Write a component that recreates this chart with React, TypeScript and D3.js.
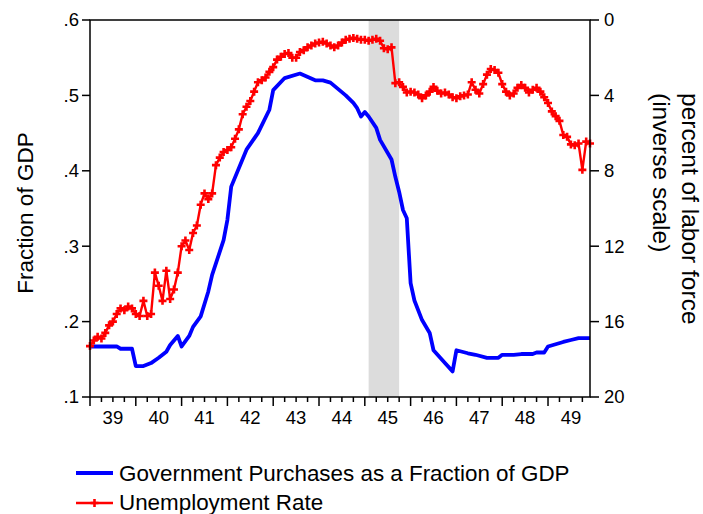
import React from "react";
import * as d3 from "d3";

// Monthly observations, Jan 1939 .. Dec 1949 (month offset 0..131)
const startYear = 1939;
const endYear = 1949;

// Government purchases as a fraction of GDP: month offset since Jan 1939 and value
const govMonths = [0, 7, 8, 11, 12, 14, 16, 18, 20, 21, 23, 24, 26, 27, 29, 31, 32, 35, 36, 37, 41, 44, 47, 48, 51, 55, 59, 61, 63, 67, 69, 70, 71, 72, 73, 75, 76, 79, 80, 81, 82, 83, 84, 85, 87, 89, 90, 93, 95, 96, 99, 101, 104, 107, 108, 111, 113, 116, 117, 119, 120, 124, 126, 128, 131];
const govShare = [0.167, 0.167, 0.164, 0.164, 0.141, 0.141, 0.145, 0.152, 0.160, 0.169, 0.181, 0.167, 0.181, 0.193, 0.207, 0.240, 0.262, 0.308, 0.335, 0.379, 0.428, 0.450, 0.481, 0.507, 0.523, 0.529, 0.520, 0.520, 0.517, 0.500, 0.490, 0.483, 0.472, 0.478, 0.472, 0.457, 0.441, 0.415, 0.392, 0.372, 0.348, 0.337, 0.251, 0.228, 0.202, 0.185, 0.162, 0.145, 0.134, 0.162, 0.158, 0.156, 0.152, 0.152, 0.156, 0.156, 0.157, 0.157, 0.159, 0.159, 0.167, 0.173, 0.1756, 0.178, 0.178];

// Unemployment rate (percent of labor force), monthly Jan 1939 .. Dec 1949
const unempRate = [
  17.3, 17.0, 16.8, 16.9, 16.6, 16.2, 16.0, 15.6, 15.3, 15.4, 15.2, 15.3,
  15.6, 15.7, 14.9, 15.7, 15.6, 13.4, 14.1, 14.9, 13.3, 14.8, 14.3, 13.4,
  12.0, 11.7, 12.2, 11.3, 10.9, 9.8, 9.2, 9.5, 9.2, 7.7, 7.3, 7.0,
  6.9, 6.75, 6.3, 5.8, 5.0, 4.6, 4.3, 3.8, 3.3, 3.2, 3.05, 2.75,
  2.5, 2.1, 1.95, 1.8, 1.75, 2.0, 2.0, 1.7, 1.6, 1.45, 1.35, 1.25,
  1.2, 1.15, 1.25, 1.35, 1.45, 1.35, 1.2, 1.05, 1.0, 0.95, 1.0, 1.05,
  1.05, 1.1, 1.05, 1.0, 1.1, 1.5, 1.55, 1.45, 3.35, 3.3, 3.55, 3.85,
  3.8, 3.85, 3.95, 4.15, 4.0, 3.8, 3.55, 3.75, 3.9, 3.85, 3.95, 4.1,
  4.15, 4.05, 4.0, 3.95, 3.3, 3.7, 3.9, 3.4, 2.9, 2.6, 2.65, 2.8,
  3.4, 3.8, 4.0, 3.9, 3.6, 3.45, 3.6, 3.85, 3.7, 3.6, 3.8, 4.1,
  4.4, 4.85, 5.1, 5.35, 6.1, 6.2, 6.6, 6.65, 6.55, 7.95, 6.45, 6.55,
];

// Recession shading: Feb 1945 .. Oct 1945 (month offsets)
const recessionStart = 73;
const recessionEnd = 81;

const leftTicks = [0.1, 0.2, 0.3, 0.4, 0.5, 0.6];
const rightTicks = [0, 4, 8, 12, 16, 20];
const yearLabels = ["39", "40", "41", "42", "43", "44", "45", "46", "47", "48", "49"];

const legendGov = "Government Purchases as a Fraction of GDP";
const legendUnemp = "Unemployment Rate";

const FONT = "'Liberation Sans', Arial, Helvetica, sans-serif";

export default function App() {
  const W = 703, H = 514;
  const L = 90, R = 590, T = 20, B = 397;
  const nMonths = (endYear - startYear + 1) * 12;

  const x = d3.scaleLinear().domain([0, nMonths - 1]).range([L, R]);
  const yL = d3.scaleLinear().domain([0.1, 0.6]).range([B, T]);
  const yR = d3.scaleLinear().domain([0, 20]).range([T, B]);

  const govLine = d3.line<number>()
    .x((_, i) => x(govMonths[i]))
    .y((d) => yL(d));
  const unLine = d3.line<number>()
    .x((_, i) => x(i))
    .y((d) => yR(d));

  const fmtL = (v: number) => d3.format(".1f")(v).replace(/^0/, "");

  const quarterTicks = d3.range(0, nMonths, 3);
  const m = 4; // marker half-size

  return (
    <svg width={W} height={H} style={{ display: "block", position: "absolute", left: 0, top: 0 }} fontFamily={FONT}>
      <rect width={W} height={H} fill="#fff" />
      <rect x={x(recessionStart)} y={T} width={x(recessionEnd) - x(recessionStart)} height={B - T} fill="#dcdcdc" />

      <path d={govLine(govShare) || ""} fill="none" stroke="#0000ff" strokeWidth={3.8} strokeLinejoin="round" />
      <path d={unLine(unempRate) || ""} fill="none" stroke="#ff0000" strokeWidth={2.4} strokeLinejoin="round" />
      <g stroke="#ff0000" strokeWidth={2.6}>
        {unempRate.map((u, i) => (
          <path key={i} d={`M${x(i) - m},${yR(u)}H${x(i) + m}M${x(i)},${yR(u) - m}V${yR(u) + m}`} />
        ))}
      </g>

      {/* frame */}
      <rect x={L} y={T} width={R - L} height={B - T} fill="none" stroke="#000" strokeWidth={1.5} />

      {/* left axis */}
      {leftTicks.map((t) => (
        <g key={"l" + t}>
          <line x1={L - 8} x2={L} y1={yL(t)} y2={yL(t)} stroke="#000" strokeWidth={1.5} />
          <text x={L - 11} y={yL(t)} dy="0.35em" textAnchor="end" fontSize={18.5}>{fmtL(t)}</text>
        </g>
      ))}
      {/* right axis */}
      {rightTicks.map((t) => (
        <g key={"r" + t}>
          <line x1={R} x2={R + 9} y1={yR(t)} y2={yR(t)} stroke="#000" strokeWidth={1.5} />
          <text x={R + 14} y={yR(t)} dy="0.35em" textAnchor="start" fontSize={18.5}>{t}</text>
        </g>
      ))}
      {/* bottom axis */}
      {quarterTicks.map((q) => (
        <line key={"q" + q} x1={x(q)} x2={x(q)} y1={B} y2={B + (q % 12 === 0 ? 9 : 5)} stroke="#000" strokeWidth={1.5} />
      ))}
      {yearLabels.map((lab, k) => (
        <text key={lab} x={x(k * 12 + 6)} y={B + 27} textAnchor="middle" fontSize={18.5}>{lab}</text>
      ))}

      {/* axis titles */}
      <text transform={`translate(33,${213}) rotate(-90)`} textAnchor="middle" fontSize={22.5}>Fraction of GDP</text>
      <text transform={`translate(682,93) rotate(90)`} textAnchor="start" fontSize={24.5}>percent of labor force</text>
      <text transform={`translate(653,93) rotate(90)`} textAnchor="start" fontSize={24.5}>(inverse scale)</text>

      {/* legend */}
      <line x1={76} x2={113} y1={473} y2={473} stroke="#0000ff" strokeWidth={3.8} />
      <text x={119} y={481} fontSize={22.4}>{legendGov}</text>
      <line x1={76} x2={113} y1={503} y2={503} stroke="#ff0000" strokeWidth={2.4} />
      <path d={`M${94.5 - m},503H${94.5 + m}M94.5,${503 - m}V${503 + m}`} stroke="#ff0000" strokeWidth={2.6} />
      <text x={119} y={510} fontSize={22.4}>{legendUnemp}</text>
    </svg>
  );
}
